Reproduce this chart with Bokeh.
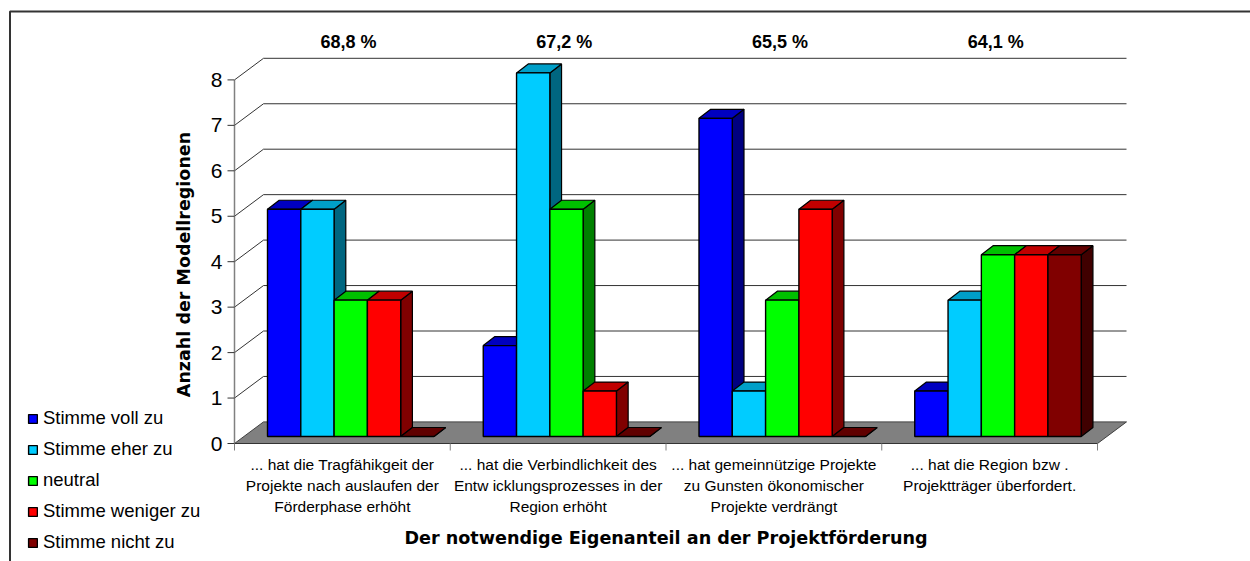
import math
from bokeh.plotting import figure
from bokeh.models import Range1d, Legend, LegendItem
from bokeh.core.properties import value
from bokeh.embed import file_html
from bokeh.resources import INLINE

series_names = ["Stimme voll zu", "Stimme eher zu", "neutral", "Stimme weniger zu", "Stimme nicht zu"]
voll = [5, 2, 7, 1]
eher = [5, 8, 1, 3]
neutral = [3, 5, 3, 4]
weniger = [3, 1, 5, 4]
nicht = [0, 0, 0, 4]
series_values = [voll, eher, neutral, weniger, nicht]
front_colors = ["#0000FF", "#00CCFF", "#00FF00", "#FF0000", "#800000"]
top_colors = ["#0000C0", "#009FC8", "#00C000", "#C00000", "#600000"]
side_colors = ["#000080", "#006680", "#008000", "#800000", "#400000"]
percent_labels = ["68,8 %", "67,2 %", "65,5 %", "64,1 %"]
category_labels = [
    ["... hat die Tragfähikgeit der", "Projekte nach auslaufen der", "Förderphase erhöht"],
    ["... hat die Verbindlichkeit des", "Entw icklungsprozesses in der", "Region erhöht"],
    ["... hat gemeinnützige Projekte", "zu Gunsten ökonomischer", "Projekte verdrängt"],
    ["... hat die Region bzw .", "Projektträger überfordert."],
]
y_ticks = [0, 1, 2, 3, 4, 5, 6, 7, 8]
x_title = "Der notwendige Eigenanteil an der Projektförderung"
y_title = "Anzahl der Modellregionen"

# layout in page pixels
W, H = 1250, 561
X0, Y0 = 234, 443
CAT = 215.75
UNIT = 45.45
sx = 1 / CAT
sy = 1 / UNIT


def px(x):
    return (x - X0) * sx


def py(y):
    return (Y0 - y) * sy


wall_dx, wall_dy = 29 * sx, 21.6 * sy
front_dx, front_dy = 8.7 * sx, 7 * sy
depth_dx, depth_dy = 11.7 * sx, 9 * sy
bar_w = 33.3 * sx
first = 33 * sx
n_cat = len(voll)
FONT = value("Liberation Sans")

p = figure(width=W, height=H, output_backend="svg", toolbar_location=None,
           x_range=Range1d(px(0), px(W)), y_range=Range1d(py(H), py(0)),
           x_axis_type=None, y_axis_type=None,
           min_border_left=0, min_border_right=0, min_border_top=0, min_border_bottom=0)
p.outline_line_color = None
p.grid.visible = False
p.background_fill_color = "white"

# outer frame: left and top only
p.line([px(9.5), px(9.5), px(W)], [py(H), py(11), py(11)], line_color="#333333", line_width=2)

# floor
p.patch([0, wall_dx, n_cat + wall_dx, n_cat], [0, wall_dy, wall_dy, 0],
        fill_color="#808080", line_color="#404040", line_width=1)

# gridlines on the back wall
gx = [[0, wall_dx, n_cat + wall_dx] for t in y_ticks[1:]]
gy = [[t, t + wall_dy, t + wall_dy] for t in y_ticks[1:]]
p.multi_line(gx, gy, line_color="#333333", line_width=1)

# axis lines and ticks
p.line([0, 0], [0, y_ticks[-1]], line_color="#808080", line_width=1.5)
p.line([0, n_cat], [0, 0], line_color="#333333", line_width=1)
p.segment([-7 * sx] * len(y_ticks), y_ticks, [0] * len(y_ticks), y_ticks, line_color="#333333", line_width=1)
xt = list(range(n_cat + 1))
p.segment(xt, [0] * len(xt), xt, [-7 * sy] * len(xt), line_color="#808080", line_width=1)

# bars
legend_items = []
for s, vals in enumerate(series_values):
    fl, fr, fb, ft = [], [], [], []
    tx, ty, sxs, sys = [], [], [], []
    for c, v in enumerate(vals):
        l = c + first + s * bar_w
        r = l + bar_w
        b = front_dy
        t = front_dy + v
        fl.append(l); fr.append(r); fb.append(b); ft.append(t)
        tx.append([l, l + depth_dx, r + depth_dx, r])
        ty.append([t, t + depth_dy, t + depth_dy, t])
        sxs.append([r, r + depth_dx, r + depth_dx, r])
        sys.append([b, b + depth_dy, t + depth_dy, t])
    p.patches(sxs, sys, fill_color=side_colors[s], line_color="#000000", line_width=1.2)
    p.patches(tx, ty, fill_color=top_colors[s], line_color="#000000", line_width=1.2)
    q = p.quad(left=fl, right=fr, bottom=fb, top=ft, fill_color=front_colors[s],
               line_color="#000000", line_width=1.4)
    legend_items.append(LegendItem(label=value(series_names[s]), renderers=[q]))

# percentages
p.text([i + 0.528 for i in range(n_cat)], [py(41)] * n_cat, text=percent_labels,
       text_font=FONT, text_font_style="bold", text_font_size="18px",
       text_align="center", text_baseline="middle", text_color="#000000")

# value tick labels
p.text([px(222)] * len(y_ticks), y_ticks, text=[str(t) for t in y_ticks],
       text_font=FONT, text_font_size="21px", text_align="right", text_baseline="middle",
       text_color="#000000")

# category labels
cx, cy, ct = [], [], []
for i, lines in enumerate(category_labels):
    for j, line in enumerate(lines):
        cx.append(i + 0.5)
        cy.append(py(464 + 21 * j))
        ct.append(line)
p.text(cx, cy, text=ct, text_font=FONT, text_font_size="15.5px", text_align="center",
       text_baseline="middle", text_color="#000000")

# axis titles
p.text([n_cat / 2], [py(537)], text=[x_title], text_font=value("DejaVu Sans"), text_font_style="bold",
       text_font_size="17.6px", text_align="center", text_baseline="middle", text_color="#000000")
p.text([px(183)], [py(264)], text=[y_title], angle=math.pi / 2, text_font=value("DejaVu Sans"),
       text_font_style="bold", text_font_size="17.5px", text_align="center", text_baseline="middle",
       text_color="#000000")

# legend
leg = Legend(items=legend_items, location=(27, 8), orientation="vertical",
             border_line_color=None, background_fill_alpha=0, padding=0, margin=0,
             glyph_width=11, glyph_height=11, label_height=11, spacing=9,
             label_standoff=5, label_text_font="Liberation Sans", label_text_font_size="18.5px",
             label_text_color="#000000")
p.add_layout(leg, "center")

open("out.html", "w").write(file_html(p, INLINE))
